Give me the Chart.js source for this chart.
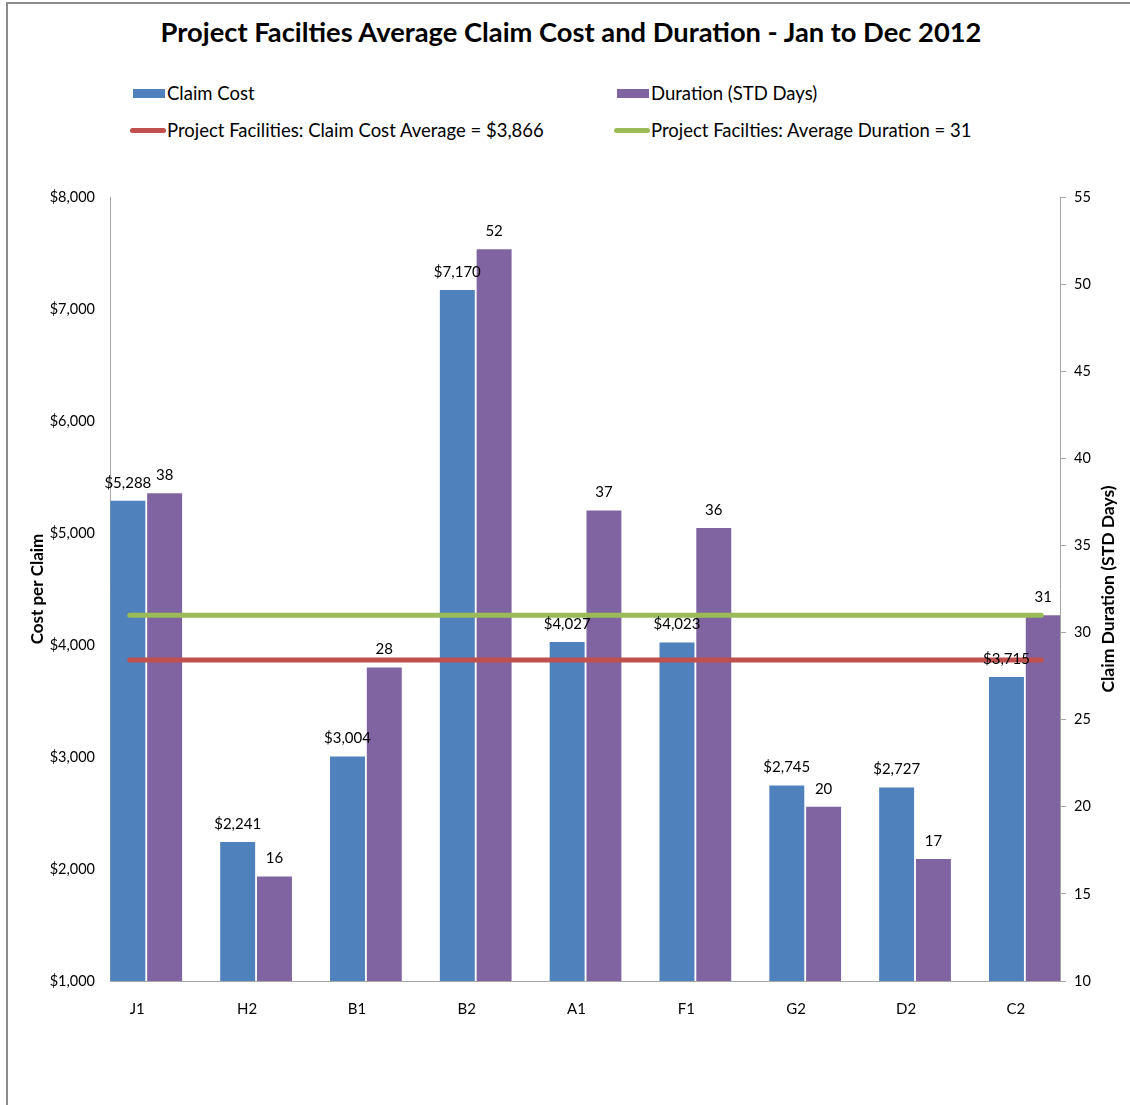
<!DOCTYPE html>
<html>
<head>
<meta charset="utf-8">
<script src="https://cdn.jsdelivr.net/npm/chart.js@4.4.0/dist/chart.umd.min.js"></script>
<style>
  body { margin: 0; background: #fff; font-family: 'Lato', sans-serif; }
  #wrap { position: relative; width: 1130px; height: 1105px; overflow: hidden; }
  #frame { position: absolute; left: 6px; top: 2px; right: -4px; bottom: -4px; border-left: 2px solid #8c8c8c; border-top: 2px solid #8c8c8c; }
  #title { position: absolute; left: 0; width: 1142px; top: 15px; text-align: center; font-weight: bold; font-size: 27.3px; color: #000; }
  .leg { position: absolute; font-size: 18.5px; color: #000; white-space: nowrap; line-height: 20px; }
  .sw { position: absolute; }
  canvas { position: absolute; left: 0; top: 0; }
</style>
</head>
<body>
<div id="wrap">
  <div id="frame"></div>
  <div id="title">Project Facilties Average Claim Cost and Duration - Jan to Dec 2012</div>
  <div class="sw" style="left:133px;top:89px;width:32px;height:9px;background:#4F81BD"></div>
  <div class="leg" style="left:167px;top:83px">Claim Cost</div>
  <div class="sw" style="left:617px;top:89px;width:32px;height:9px;background:#8064A2"></div>
  <div class="leg" style="left:651px;top:83px">Duration (STD Days)</div>
  <div class="sw" style="left:130px;top:128px;width:36px;height:5px;border-radius:3px;background:#C0504D"></div>
  <div class="leg" style="left:167px;top:120px">Project Facilities: Claim Cost Average = $3,866</div>
  <div class="sw" style="left:614px;top:128px;width:36px;height:5px;border-radius:3px;background:#9BBB59"></div>
  <div class="leg" style="left:651px;top:120px">Project Facilties: Average Duration = 31</div>
  <canvas id="chart" width="1130" height="1105"></canvas>
</div>
<script>
const categories = ['J1', 'H2', 'B1', 'B2', 'A1', 'F1', 'G2', 'D2', 'C2'];
const claimCost = [5288, 2241, 3004, 7170, 4027, 4023, 2745, 2727, 3715];
const durationDays = [38, 16, 28, 52, 37, 36, 20, 17, 31];
const costAverage = 3866;
const durationAverage = 31;
// where the average lines start/end, in category units
const lineSpan = [-0.15, 8.15];

const BLUE = '#4F81BD';
const PURPLE = '#8064A2';
const RED = '#C0504D';
const GREEN = '#9BBB59';
const FONT = 'Lato';

const money = v => '$' + v.toLocaleString('en-US');

// value labels above the bars
const barLabels = {
    id: 'barLabels',
    afterDatasetsDraw(chart) {
        const ctx = chart.ctx;
        ctx.save();
        ctx.font = '15px ' + FONT;
        ctx.fillStyle = '#000';
        ctx.textAlign = 'center';
        ctx.textBaseline = 'middle';
        chart.data.datasets.forEach((ds, di) => {
            if (ds.type !== 'bar') return;
            chart.getDatasetMeta(di).data.forEach((bar, i) => {
                const v = ds.data[i].y;
                const txt = ds.yAxisID === 'y' ? money(v) : String(v);
                ctx.fillText(txt, bar.x, bar.y - 18);
            });
        });
        ctx.restore();
    }
};

// right axis title reads bottom-to-top like the left one
const rightTitle = {
    id: 'rightTitle',
    afterDraw(chart) {
        const ctx = chart.ctx;
        const a = chart.chartArea;
        ctx.save();
        ctx.translate(1108, (a.top + a.bottom) / 2);
        ctx.rotate(-Math.PI / 2);
        ctx.font = 'bold 17.5px ' + FONT;
        ctx.fillStyle = '#000';
        ctx.textAlign = 'center';
        ctx.textBaseline = 'middle';
        ctx.fillText('Claim Duration (STD Days)', 0, 0);
        ctx.restore();
    }
};

const ctx = document.getElementById('chart').getContext('2d');
new Chart(ctx, {
    data: {
        datasets: [
            {
                type: 'line', label: 'Project Facilities: Claim Cost Average = $3,866',
                data: lineSpan.map(x => ({ x, y: costAverage })),
                yAxisID: 'y', borderColor: RED, borderWidth: 5, borderCapStyle: 'round',
                pointRadius: 0, order: 0
            },
            {
                type: 'line', label: 'Project Facilties: Average Duration = 31',
                data: lineSpan.map(x => ({ x, y: durationAverage })),
                yAxisID: 'y2', borderColor: GREEN, borderWidth: 5, borderCapStyle: 'round',
                pointRadius: 0, order: 0
            },
            {
                type: 'bar', label: 'Claim Cost',
                data: claimCost.map((y, x) => ({ x, y })),
                yAxisID: 'y', backgroundColor: BLUE,
                categoryPercentage: 0.67, barPercentage: 0.95, order: 1
            },
            {
                type: 'bar', label: 'Duration (STD Days)',
                data: durationDays.map((y, x) => ({ x, y })),
                yAxisID: 'y2', backgroundColor: PURPLE,
                categoryPercentage: 0.67, barPercentage: 0.95, order: 1
            }
        ]
    },
    options: {
        responsive: false,
        animation: false,
        layout: { padding: { top: 197, left: 0, right: 0, bottom: 0 } },
        plugins: { legend: { display: false }, tooltip: { enabled: false } },
        scales: {
            x: {
                type: 'linear', min: -0.33, max: 8.32, offset: false,
                grid: { display: false, offset: false },
                border: { color: '#a6a6a6', width: 1 },
                ticks: {
                    stepSize: 1, includeBounds: false, autoSkip: false, maxRotation: 0,
                    padding: 11, labelOffset: -9, color: '#000', font: { family: FONT, size: 15 },
                    callback: v => categories[v] ?? ''
                },
                afterFit: s => { s.height = 124; }
            },
            y: {
                position: 'left', min: 1000, max: 8000,
                grid: { display: false, drawTicks: false },
                border: { color: '#a6a6a6', width: 1 },
                ticks: {
                    stepSize: 1000, padding: 15, color: '#000',
                    font: { family: FONT, size: 14.5 }, callback: v => money(v)
                },
                title: {
                    display: true, text: 'Cost per Claim', color: '#000',
                    font: { family: FONT, size: 17, weight: 'bold' }, padding: { top: 27, bottom: 0 }
                },
                afterFit: s => { s.width = 110; }
            },
            y2: {
                position: 'right', min: 10, max: 55,
                grid: { display: true, drawOnChartArea: false, drawTicks: true, tickLength: 6, color: '#a6a6a6' },
                border: { color: '#a6a6a6', width: 1 },
                ticks: {
                    stepSize: 5, padding: 8, color: '#000',
                    font: { family: FONT, size: 14.5 }
                },
                afterFit: s => { s.width = 70; }
            }
        }
    },
    plugins: [barLabels, rightTitle]
});
</script>
</body>
</html>
